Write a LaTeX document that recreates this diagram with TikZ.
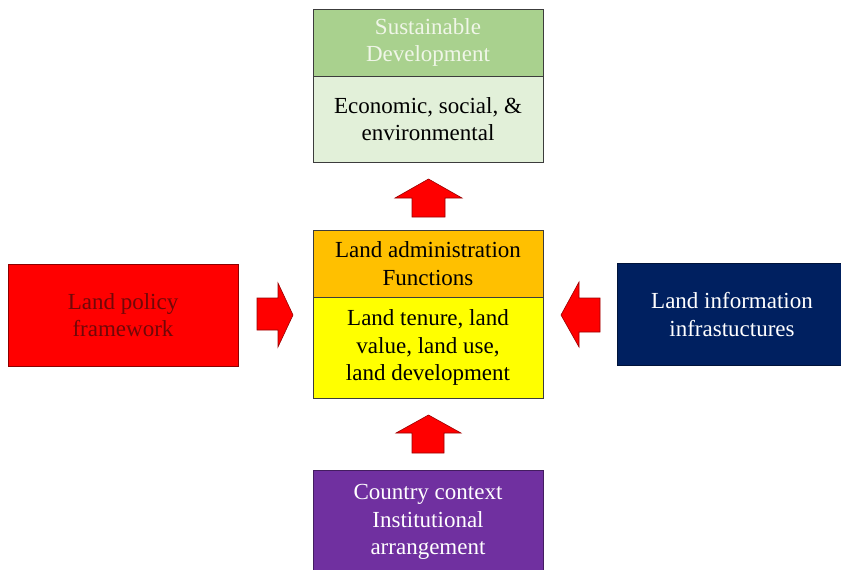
\documentclass[tikz,border=0pt]{standalone}
\usepackage{fontspec}
\setmainfont{Liberation Serif}
\definecolor{sdgreen}{RGB}{169,209,142}
\definecolor{sdlight}{RGB}{226,240,217}
\definecolor{laorange}{RGB}{255,192,0}
\definecolor{layellow}{RGB}{255,255,0}
\definecolor{lpred}{RGB}{255,0,0}
\definecolor{lpdark}{RGB}{112,8,8}
\definecolor{linavy}{RGB}{0,32,96}
\definecolor{ccpurple}{RGB}{112,48,160}
\definecolor{sdtext}{RGB}{240,246,232}
\definecolor{edge}{RGB}{60,60,60}
\tikzset{
  boxbase/.style={rectangle, inner sep=0pt, align=center, draw=edge, line width=0.9pt,
    font=\fontsize{23}{27.5}\selectfont},
  blockarrow/.style={fill=lpred, draw=lpred!60!black, line width=0.6pt, line join=miter},
}
\begin{document}
\begin{tikzpicture}[x=1pt,y=-1pt]
\useasboundingbox (0,0) rectangle (841,570);
% Sustainable development box
\node[boxbase, fill=sdgreen, text=sdtext, minimum width=230, minimum height=67] (sdtop) at (428,42.5) {Sustainable\\Development};
\node[boxbase, fill=sdlight, text=black, minimum width=230, minimum height=86] (sdbot) at (428,119) {Economic, social, \&\\environmental};
% Land administration box
\node[boxbase, fill=laorange, text=black, minimum width=230, minimum height=67] (latop) at (428,263.5) {Land administration\\Functions};
\node[boxbase, fill=layellow, text=black, minimum width=230, minimum height=101] (labot) at (428,347.5) {Land tenure, land\\value, land use,\\land development};
% Left box
\node[boxbase, fill=lpred, draw=lpred!55!black, text=lpdark, minimum width=230, minimum height=102] (lp) at (123,315) {Land policy\\framework};
% Right box
\node[boxbase, fill=linavy, draw=linavy!60!black, text=white, minimum width=230, minimum height=102] (li) at (732,314.5) {Land information\\infrastuctures};
% Bottom box
\node[boxbase, fill=ccpurple, draw=ccpurple!60!black, text=white, minimum width=230, minimum height=104] (cc) at (428,522) {Country context\\Institutional\\arrangement};
% Block arrows
\filldraw[blockarrow] (428.5,179) -- (462,198) -- (445,198) -- (445,217) -- (412,217) -- (412,198) -- (395,198) -- cycle;
\filldraw[blockarrow] (428.5,415) -- (461,433) -- (444,433) -- (444,453) -- (412,453) -- (412,433) -- (396,433) -- cycle;
\filldraw[blockarrow] (293,315) -- (278,347) -- (278,330) -- (257,330) -- (257,298) -- (278,298) -- (278,283) -- cycle;
\filldraw[blockarrow] (561,315) -- (579,282) -- (579,298) -- (600,298) -- (600,332) -- (579,332) -- (579,347) -- cycle;
\end{tikzpicture}
\end{document}
